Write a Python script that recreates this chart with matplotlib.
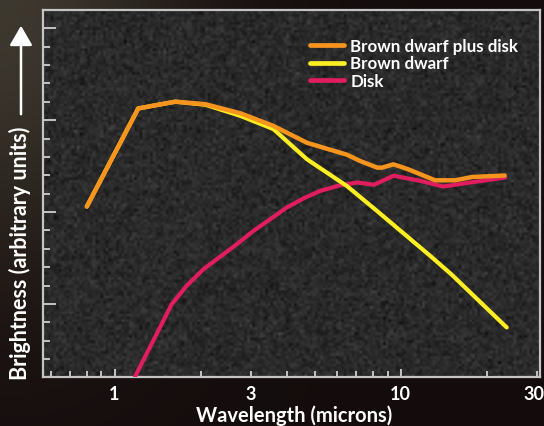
import numpy as np
import matplotlib
matplotlib.use("Agg")
import matplotlib.pyplot as plt
from matplotlib.ticker import FixedLocator, NullFormatter
from matplotlib.transforms import offset_copy, blended_transform_factory

# Spectral energy distribution of a brown dwarf with its disk
wave_total = [0.80, 1.21, 1.63, 2.08, 2.75, 3.58, 4.71, 6.50, 7.22, 8.28, 8.61, 9.45, 10.62, 13.2, 15.5, 17.8, 23.1]
bright_total = [10.30, 15.64, 16.01, 15.87, 15.38, 14.70, 13.77, 13.12, 12.78, 12.42, 12.42, 12.60, 12.33, 11.73, 11.73, 11.91, 11.99]

wave_dwarf = [0.80, 1.21, 1.63, 2.08, 2.75, 3.59, 4.70, 6.50, 8.24, 12.68, 15.02, 23.48]
bright_dwarf = [10.30, 15.64, 16.01, 15.84, 15.24, 14.52, 12.88, 11.41, 10.08, 7.62, 6.62, 3.72]

wave_disk = [1.18, 1.585, 1.788, 2.045, 2.675, 3.06, 3.50, 4.00, 4.57, 5.23, 6.14, 7.05, 8.08, 9.44, 11.70, 14.11, 17.50, 23.2]
bright_disk = [1.05, 4.99, 5.99, 6.89, 8.25, 8.98, 9.61, 10.25, 10.74, 11.15, 11.46, 11.61, 11.49, 11.98, 11.70, 11.39, 11.61, 11.88]

xtick_vals = [1, 3, 10, 30]
xtick_labels = ["1", "3", "10", "30"]

FONT = "Lato"
W, H = 544, 427
fig = plt.figure(figsize=(W / 100, H / 100), dpi=100)
fig.patch.set_facecolor("#140d0d")

# dark backdrop with a faint glow in the upper-left corner
bg = fig.add_axes([0, 0, 1, 1], zorder=-2)
yy, xx = np.mgrid[0:H, 0:W]
glow = np.exp(-((xx / 180.0) ** 2 + (yy / 260.0) ** 2))
base = np.array([0.08, 0.05, 0.05])
tint = np.array([0.26, 0.24, 0.20])
img = base[None, None, :] + glow[:, :, None] * (tint - base)[None, None, :] * 0.9
bg.imshow(np.clip(img, 0, 1), extent=[0, 1, 0, 1], aspect="auto")
bg.set_axis_off()

rect = [43 / W, 1 - 378.4 / H, (540 - 43) / W, (378.4 - 11) / H]

# grainy plot-area texture
tex = fig.add_axes(rect, zorder=-1)
rng = np.random.default_rng(7)
grain = 0.165 + 0.035 * rng.standard_normal((140, 190))
tex.imshow(np.dstack([grain, grain, grain]).clip(0, 1), extent=[0, 1, 0, 1],
           aspect="auto", interpolation="bilinear")
tex.set_axis_off()

ax = fig.add_axes(rect)
ax.set_facecolor("none")
ax.set_xscale("log")
ax.set_xlim(0.5623, 30.7)
ax.set_ylim(1, 21)

ax.plot(wave_disk, bright_disk, color="#e01d5f", lw=3.0, solid_capstyle="round",
        solid_joinstyle="round", label="Disk", zorder=3)
ax.plot(wave_dwarf, bright_dwarf, color="#fcee21", lw=3.0, solid_capstyle="round",
        solid_joinstyle="round", label="Brown dwarf", zorder=4)
ax.plot(wave_total, bright_total, color="#f7941d", lw=3.2, solid_capstyle="round",
        solid_joinstyle="round", label="Brown dwarf plus disk", zorder=5)

frame_c = "#c4c4c4"
for s in ax.spines.values():
    s.set_color(frame_c)
    s.set_linewidth(1.6)

ax.xaxis.set_major_locator(FixedLocator([1, 10]))
ax.xaxis.set_minor_locator(FixedLocator([0.6, 0.7, 0.8, 0.9, 2, 3, 4, 5, 6, 7, 8, 9, 20, 30]))
ax.xaxis.set_major_formatter(NullFormatter())
ax.xaxis.set_minor_formatter(NullFormatter())
ax.yaxis.set_major_locator(FixedLocator([5, 10, 15, 20]))
ax.yaxis.set_minor_locator(FixedLocator([v for v in range(2, 21) if v % 5]))
ax.yaxis.set_major_formatter(NullFormatter())
ax.tick_params(which="both", direction="in", color=frame_c, width=1.4)
ax.tick_params(axis="x", which="major", length=6)
ax.tick_params(axis="x", which="minor", length=4)
ax.tick_params(axis="y", which="major", length=9)
ax.tick_params(axis="y", which="minor", length=5)

# tick labels placed in data x, pixel y
xlab_tr = blended_transform_factory(ax.transData, fig.transFigure)
for v, lab in zip(xtick_vals, xtick_labels):
    dx = -3 if v == 30 else 0
    tr = offset_copy(xlab_tr, fig=fig, x=dx * 0.72, y=0, units="points")
    ax.text(v, 1 - 395 / H, lab, transform=tr, ha="center", va="center",
            color="white", fontsize=13, fontweight="bold", family=FONT, clip_on=False)

fig.text(294 / W, 1 - 416 / H, "Wavelength (microns)", ha="center", va="center",
         color="white", fontsize=14.5, fontweight="bold", family=FONT)

fig.text(20 / W, 1 - 253 / H, "Brightness (arbitrary units)", rotation=90, ha="center",
         va="center", color="white", fontsize=15.5, fontweight="bold", family=FONT)
fig.add_artist(matplotlib.patches.FancyArrowPatch(
    (21 / W, 1 - 118 / H), (21 / W, 1 - 24 / H), transform=fig.transFigure,
    arrowstyle="-|>,head_length=6,head_width=3.5", color="white", lw=1.8,
    mutation_scale=2))

handles, labels = ax.get_legend_handles_labels()
leg = ax.legend(handles[::-1], labels[::-1], loc="upper left",
                bbox_to_anchor=((303 - 43) / (540 - 43), 1 - (32 - 11) / (378.4 - 11)),
                frameon=False, handlelength=2.0, handletextpad=0.4, labelspacing=0.1,
                borderaxespad=0, prop={"family": FONT, "weight": "bold", "size": 12.2})
for t in leg.get_texts():
    t.set_color("white")
for ln in leg.get_lines():
    ln.set_linewidth(3.4)

fig.savefig("out.png", dpi=100, facecolor=fig.get_facecolor())
